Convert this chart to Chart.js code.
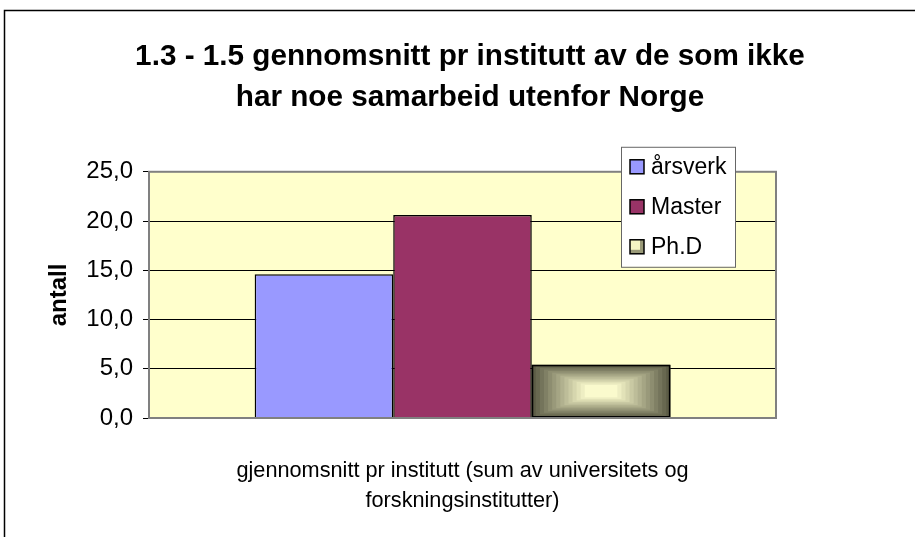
<!DOCTYPE html>
<html>
<head>
<meta charset="utf-8">
<script src="https://cdn.jsdelivr.net/npm/chart.js@4.4.1/dist/chart.umd.min.js"></script>
<style>
  body { margin: 0; background: #fff; }
  canvas { display: block; }
</style>
</head>
<body>
<canvas id="c" width="915" height="537"></canvas>
<script>
const FONT = '"Liberation Sans", Arial, sans-serif';

const categories = [['gjennomsnitt pr institutt (sum av universitets og', 'forskningsinstitutter)']];
const seriesNames = ['årsverk', 'Master', 'Ph.D'];
const aarsverk = [14.6];
const master = [20.6];
const phd = [5.4];
const titleLines = ['1.3 - 1.5 gennomsnitt pr institutt av de som ikke', 'har noe samarbeid utenfor Norge'];

// frame + yellow plot area
const backdrop = {
    id: 'backdrop',
    beforeDraw(chart) {
        const { ctx, chartArea: a } = chart;
        ctx.save();
        ctx.fillStyle = '#fff';
        ctx.fillRect(0, 0, chart.width, chart.height);
        ctx.strokeStyle = '#000';
        ctx.lineWidth = 1.5;
        ctx.beginPath();
        ctx.moveTo(4.5, chart.height);
        ctx.lineTo(4.5, 10.5);
        ctx.lineTo(chart.width, 10.5);
        ctx.stroke();
        ctx.fillStyle = '#FFFFCC';
        ctx.fillRect(a.left, a.top, a.right - a.left, a.bottom - a.top);
        ctx.restore();
    },
    afterDatasetsDraw(chart) {
        const { ctx, chartArea: a } = chart;
        ctx.save();
        ctx.strokeStyle = '#808080';
        ctx.lineWidth = 2;
        ctx.strokeRect(a.left, a.top, a.right - a.left, a.bottom - a.top);
        ctx.restore();
    }
};

// rectangular "from centre" gradient on the Ph.D bar
const mix = (c1, c2, t) => c1.map((v, i) => Math.round(v + (c2[i] - v) * t));
const phdFill = {
    id: 'phdFill',
    afterDatasetDraw(chart, args) {
        if (args.index !== 2) return;
        const { ctx } = chart;
        const edge = [92, 92, 70], centre = [250, 250, 205];
        args.meta.data.forEach(bar => {
            const { x, y, base, width } = bar.getProps(['x', 'y', 'base', 'width'], true);
            const l = x - width / 2, t = Math.min(y, base), h = Math.abs(base - y);
            const n = 14;
            ctx.save();
            for (let i = 0; i < n; i++) {
                const dx = i * (width / 2) / (n + 3), dy = i * (h / 2) / (n + 3);
                const c = mix(edge, centre, i / (n - 1));
                ctx.fillStyle = `rgb(${c[0]},${c[1]},${c[2]})`;
                ctx.fillRect(l + dx, t + dy, width - 2 * dx, h - 2 * dy);
            }
            ctx.strokeStyle = '#000';
            ctx.lineWidth = 1.5;
            ctx.strokeRect(l + 0.75, t + 0.75, width - 1.5, h - 1.5);
            ctx.restore();
        });
    }
};

// boxed legend sitting over the top right of the plot
const boxLegend = {
    id: 'boxLegend',
    afterDraw(chart) {
        const { ctx, chartArea: a } = chart;
        const lx = a.right - 155, ly = a.top - 25, lw = 114, lh = 120;
        ctx.save();
        ctx.fillStyle = '#fff';
        ctx.fillRect(lx, ly, lw, lh);
        ctx.strokeStyle = '#666';
        ctx.lineWidth = 1;
        ctx.strokeRect(lx + 0.5, ly + 0.5, lw, lh);
        ctx.font = '23px ' + FONT;
        ctx.textBaseline = 'middle';
        chart.data.datasets.forEach((ds, i) => {
            const cy = ly + 20 + i * 40;
            const sx = lx + 9, sy = cy - 7;
            if (i === 2) {
                ctx.fillStyle = '#9a9a78';
                ctx.fillRect(sx, sy, 14, 14);
                ctx.fillStyle = '#f4f4c4';
                ctx.fillRect(sx, sy, 10, 10);
            } else {
                ctx.fillStyle = ds.backgroundColor;
                ctx.fillRect(sx, sy, 14, 14);
            }
            ctx.strokeStyle = '#000';
            ctx.lineWidth = 1.5;
            ctx.strokeRect(sx, sy, 14, 14);
            ctx.fillStyle = '#000';
            ctx.fillText(ds.label, lx + 30, cy + 1);
        });
        ctx.restore();
    }
};

new Chart(document.getElementById('c'), {
    type: 'bar',
    data: {
        labels: categories,
        datasets: [
            { label: seriesNames[0], data: aarsverk, backgroundColor: '#9999FF' },
            { label: seriesNames[1], data: master, backgroundColor: '#993366' },
            { label: seriesNames[2], data: phd, backgroundColor: '#5c5c46' }
        ].map(d => Object.assign(d, {
            borderColor: '#000',
            borderWidth: 1.5,
            categoryPercentage: 0.663,
            barPercentage: 1.0
        }))
    },
    options: {
        responsive: false,
        animation: false,
        layout: { padding: { left: 25, right: 0, top: 10, bottom: 0 } },
        scales: {
            x: {
                grid: { display: false },
                border: { display: false },
                ticks: { color: '#000', padding: 30, font: { family: FONT, size: 21.7, lineHeight: 1.38 } },
                afterFit(scale) { scale.height = 119; }
            },
            y: {
                min: 0,
                max: 25,
                ticks: {
                    stepSize: 5,
                    color: '#000',
                    padding: 10,
                    font: { family: FONT, size: 24 },
                    callback: v => v.toFixed(1).replace('.', ',')
                },
                grid: { color: '#000', lineWidth: 1, tickLength: 6, tickColor: '#000' },
                border: { display: false },
                title: {
                    display: true,
                    text: 'antall',
                    color: '#000',
                    padding: { top: 20, bottom: 0 },
                    font: { family: FONT, size: 24, weight: 'bold' }
                },
                afterFit(scale) { scale.width = 124; }
            },
            y2: {
                position: 'right',
                display: true,
                grid: { display: false },
                border: { display: false },
                ticks: { display: false },
                afterFit(scale) { scale.width = 139; }
            }
        },
        plugins: {
            legend: { display: false },
            tooltip: { enabled: false },
            title: {
                display: true,
                text: titleLines,
                color: '#000',
                padding: { top: 27, bottom: 54 },
                font: { family: FONT, size: 29.7, weight: 'bold', lineHeight: 1.36 }
            }
        }
    },
    plugins: [backdrop, phdFill, boxLegend]
});
</script>
</body>
</html>
